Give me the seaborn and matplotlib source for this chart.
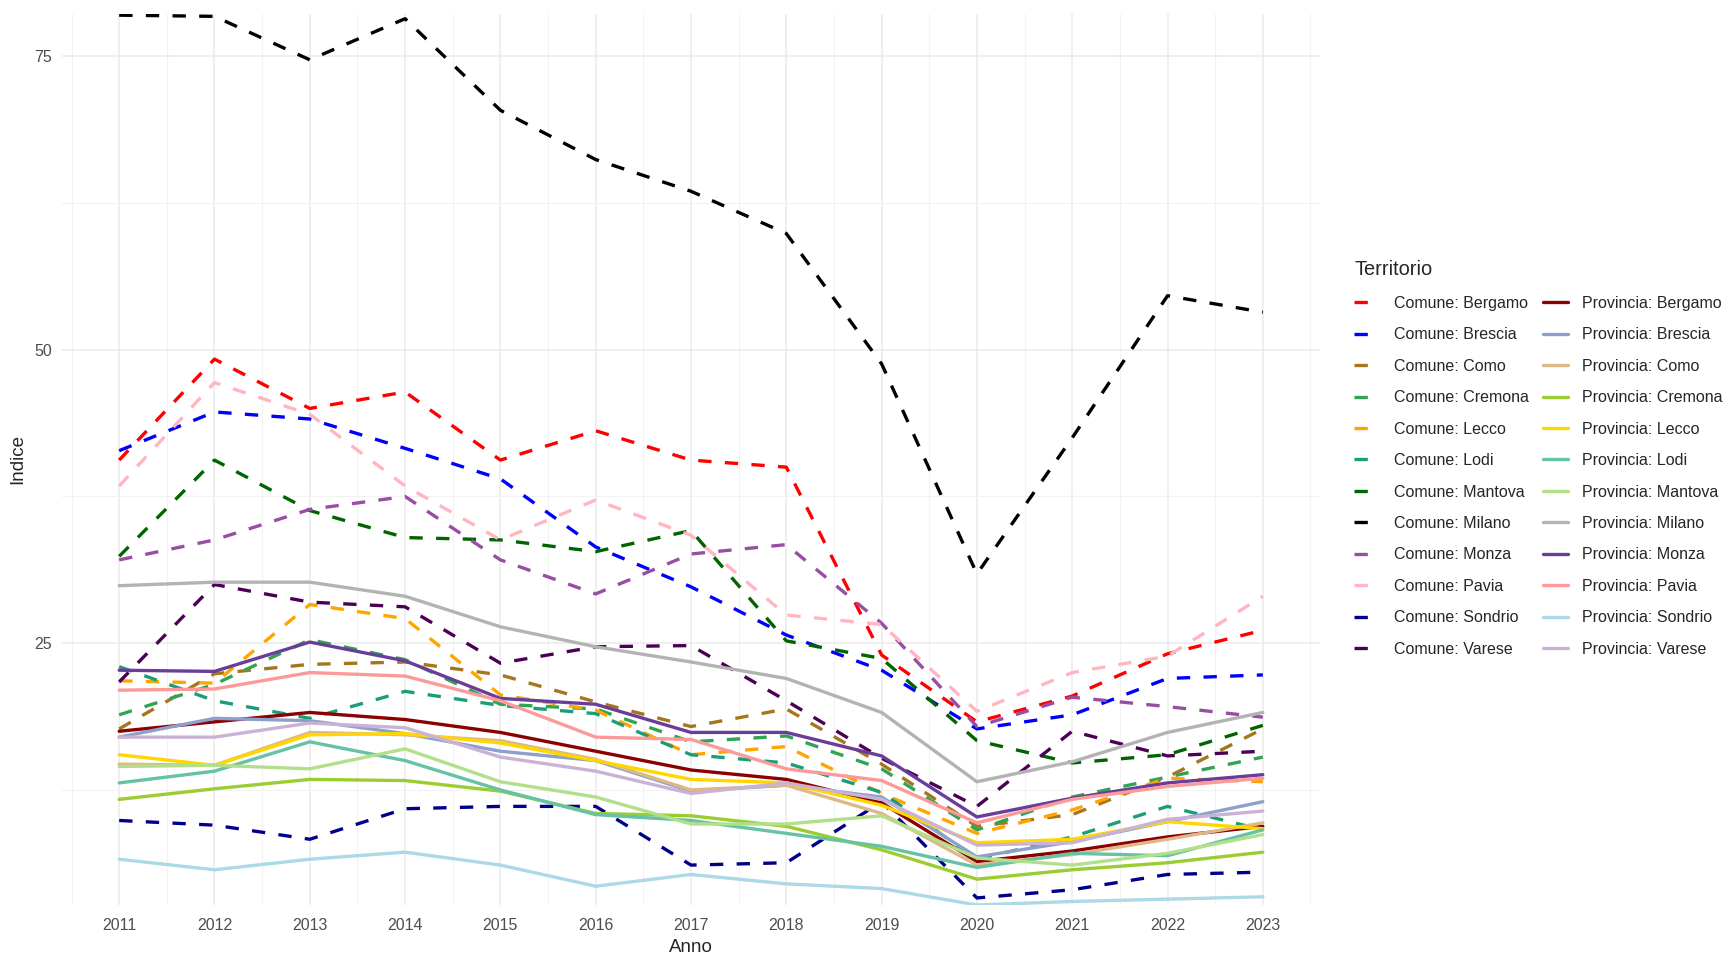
# plot.py
# Line chart of Indice per Territorio (Comune vs Provincia), Lombardia 2011-2023

import numpy as np
import pandas as pd
import matplotlib.pyplot as plt
from matplotlib.lines import Line2D
from matplotlib.ticker import MultipleLocator
import seaborn as sns

years = list(range(2011, 2024))
cities = ["Bergamo", "Brescia", "Como", "Cremona", "Lecco", "Lodi",
          "Mantova", "Milano", "Monza", "Pavia", "Sondrio", "Varese"]

# values
comune_bergamo = [40.6, 49.2, 45.0, 46.4, 40.6, 43.1, 40.6, 40.0, 24.0, 18.3, 20.5, 24.1, 26.1]
comune_brescia = [41.4, 44.7, 44.1, 41.6, 39.0, 33.2, 29.8, 25.7, 22.7, 17.7, 18.9, 22.0, 22.3]
comune_como = [17.7, 22.4, 23.2, 23.4, 22.3, 20.0, 17.9, 19.4, 14.7, 9.4, 10.4, 13.6, 17.7]
comune_cremona = [18.9, 21.5, 25.3, 23.6, 19.8, 19.4, 16.6, 17.1, 14.3, 9.1, 11.9, 13.6, 15.3]
comune_lecco = [21.8, 21.6, 28.3, 27.1, 20.6, 19.3, 15.5, 16.2, 12.2, 8.8, 10.8, 13.5, 13.2]
comune_lodi = [23.0, 20.1, 18.6, 20.9, 19.7, 19.0, 15.5, 14.8, 12.3, 6.6, 8.5, 11.1, 9.1]
comune_mantova = [32.4, 40.6, 36.3, 34.0, 33.8, 32.8, 34.6, 25.2, 23.7, 16.7, 14.8, 15.5, 18.0]
comune_milano = [78.5, 78.4, 74.7, 78.2, 70.4, 66.2, 63.5, 59.9, 48.8, 30.9, 42.5, 54.6, 53.2]
comune_monza = [32.1, 33.8, 36.4, 37.5, 32.1, 29.2, 32.6, 33.4, 26.7, 17.9, 20.4, 19.6, 18.7]
comune_pavia = [38.4, 47.2, 44.5, 38.4, 33.8, 37.2, 34.2, 27.4, 26.6, 19.2, 22.5, 23.9, 29.0]
comune_sondrio = [9.9, 9.5, 8.3, 10.9, 11.1, 11.1, 6.1, 6.3, 11.5, 3.3, 4.0, 5.3, 5.5]
comune_varese = [21.7, 30.0, 28.5, 28.1, 23.3, 24.7, 24.8, 20.1, 15.2, 11.1, 17.5, 15.4, 15.8]

prov_bergamo = [17.5, 18.3, 19.1, 18.5, 17.4, 15.8, 14.2, 13.4, 11.4, 6.4, 7.3, 8.5, 9.4]
prov_brescia = [17.0, 18.6, 18.4, 17.3, 15.8, 15.0, 12.4, 12.9, 11.9, 6.8, 8.1, 9.8, 11.5]
prov_como = [14.7, 14.6, 17.4, 17.2, 16.7, 15.1, 12.5, 12.9, 10.5, 6.1, 7.0, 8.3, 9.7]
prov_cremona = [11.7, 12.6, 13.4, 13.3, 12.4, 10.5, 10.3, 9.4, 7.4, 4.9, 5.7, 6.3, 7.2]
prov_lecco = [15.5, 14.6, 17.2, 17.3, 16.5, 15.0, 13.4, 13.1, 11.2, 8.0, 8.3, 9.8, 9.2]
prov_lodi = [13.1, 14.1, 16.6, 15.0, 12.5, 10.4, 9.9, 8.8, 7.7, 5.9, 7.1, 6.9, 9.1]
prov_mantova = [14.5, 14.6, 14.3, 16.0, 13.2, 11.9, 9.6, 9.6, 10.3, 6.7, 6.1, 7.1, 8.7]
prov_milano = [29.9, 30.2, 30.2, 29.0, 26.4, 24.7, 23.4, 22.0, 19.1, 13.2, 14.9, 17.4, 19.1]
prov_monza = [22.7, 22.6, 25.1, 23.5, 20.3, 19.8, 17.4, 17.4, 15.4, 10.2, 11.8, 13.1, 13.8]
prov_pavia = [21.0, 21.1, 22.5, 22.2, 20.1, 17.0, 16.8, 14.3, 13.3, 9.7, 11.7, 12.8, 13.5]
prov_sondrio = [6.6, 5.7, 6.6, 7.2, 6.1, 4.3, 5.3, 4.5, 4.1, 2.7, 3.0, 3.2, 3.4]
prov_varese = [17.0, 17.0, 18.2, 17.8, 15.3, 14.1, 12.2, 13.1, 11.7, 7.8, 8.0, 10.0, 10.7]

comune_values = [comune_bergamo, comune_brescia, comune_como, comune_cremona,
                 comune_lecco, comune_lodi, comune_mantova, comune_milano,
                 comune_monza, comune_pavia, comune_sondrio, comune_varese]
prov_values = [prov_bergamo, prov_brescia, prov_como, prov_cremona,
               prov_lecco, prov_lodi, prov_mantova, prov_milano,
               prov_monza, prov_pavia, prov_sondrio, prov_varese]

comune_colors = ["#FF0000", "#0000FF", "#A6761D", "#31A354", "#FFA500", "#1B9E77",
                 "#006400", "#000000", "#984EA3", "#FFB6C1", "#00008B", "#4B0055"]
prov_colors = ["#8B0000", "#8DA0CB", "#DEB887", "#9ACD32", "#FFD700", "#66C2A5",
               "#B2DF8A", "#B3B3B3", "#6A3D9A", "#FB9A99", "#ADD8E6", "#CAB2D6"]

# long table
rows = []
names, palette, dashes = [], {}, {}
for prefix, vals, cols, dash in [("Comune", comune_values, comune_colors, (4, 4)),
                                 ("Provincia", prov_values, prov_colors, "")]:
    for city, v, c in zip(cities, vals, cols):
        name = f"{prefix}: {city}"
        names.append(name)
        palette[name] = c
        dashes[name] = dash
        for yr, val in zip(years, v):
            rows.append({"Anno": yr, "Indice": val, "Territorio": name})
df = pd.DataFrame(rows)

W, H = 1726, 957
fig = plt.figure(figsize=(W / 100, H / 100), dpi=100)
sns.set_style("white")
plt.rcParams["font.family"] = ["Liberation Sans", "DejaVu Sans"]

ax = fig.add_axes([62 / W, 1 - 905 / H, (1320 - 62) / W, (905 - 14) / H])

lw = 2.4
sns.lineplot(data=df, x="Anno", y="Indice", hue="Territorio", style="Territorio",
             hue_order=names, style_order=names, palette=palette, dashes=dashes,
             linewidth=lw, legend=False, ax=ax)

ax.set_xlim(2010.4, 2023.6)
ax.set_ylim(df["Indice"].min(), df["Indice"].max() + 0.1)
ax.set_xticks(years)
ax.xaxis.set_minor_locator(MultipleLocator(0.5))
ax.yaxis.set_major_locator(MultipleLocator(25))
ax.yaxis.set_minor_locator(MultipleLocator(12.5))
ax.grid(True, which="major", color="#EBEBEB", linewidth=1.1)
ax.grid(True, which="minor", color="#F2F2F2", linewidth=0.8)
ax.set_axisbelow(True)
for s in ax.spines.values():
    s.set_visible(False)
ax.tick_params(axis="both", which="both", length=0, labelsize=11.5, labelcolor="#4D4D4D")
ax.tick_params(axis="x", pad=9)
ax.tick_params(axis="y", pad=7)

ax.set_xlabel("Anno", fontsize=13.5, labelpad=5)
ax.set_ylabel("Indice", fontsize=13.5, labelpad=6)

handles = [Line2D([0], [0], color=palette[n], linewidth=lw,
                  linestyle=(0, (4, 4)) if n.startswith("Comune") else "-")
           for n in names]
leg = fig.legend(handles, names, loc="upper left",
                 bbox_to_anchor=(1340 / W, 1 - 246 / H), ncol=2, frameon=False,
                 title="Territorio", title_fontsize=14.4, fontsize=11.5,
                 alignment="left", handlelength=1.6, handletextpad=0.85,
                 columnspacing=0.9, labelspacing=1.03)

fig.savefig("out.png", dpi=100)
plt.close(fig)
